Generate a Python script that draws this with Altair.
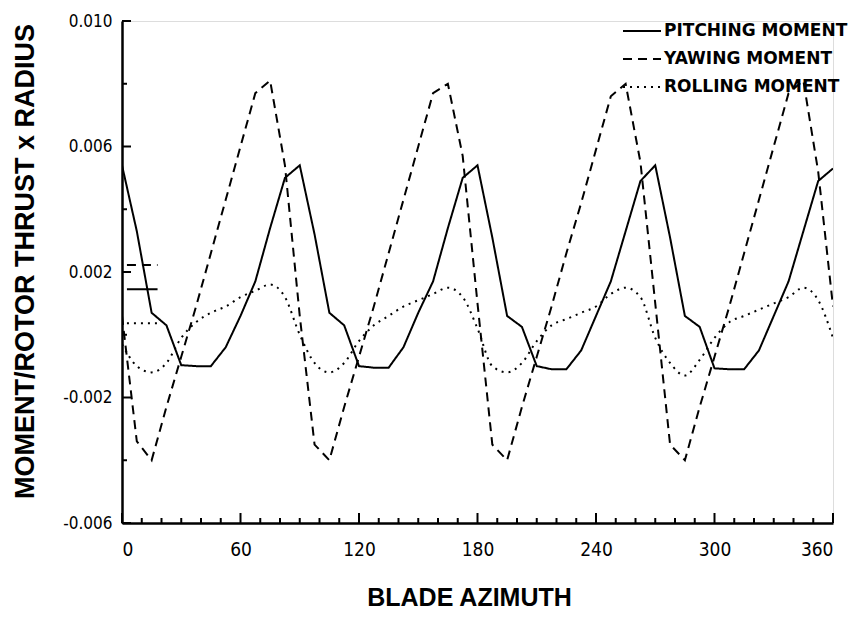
import altair as alt
import pandas as pd

azimuth = [0, 7.5, 15, 22.5, 30, 37.5, 45, 52.5, 60, 67.5, 75, 82.5, 90,
           97.5, 105, 112.5, 120, 127.5, 135, 142.5, 150, 157.5, 165, 172.5, 180,
           187.5, 195, 202.5, 210, 217.5, 225, 232.5, 240, 247.5, 255, 262.5, 270,
           277.5, 285, 292.5, 300, 307.5, 315, 322.5, 330, 337.5, 345, 352.5, 360]

pitching = [0.0054, 0.0033, 0.0007, 0.0003, -0.00097, -0.0010, -0.0010, -0.0004, 0.0006, 0.0017, 0.0034, 0.0050, 0.0054,
            0.0032, 0.0007, 0.0003, -0.0010, -0.00105, -0.00105, -0.0004, 0.0007, 0.0017, 0.0034, 0.0050, 0.0054,
            0.0031, 0.0006, 0.00025, -0.0010, -0.0011, -0.0011, -0.0005, 0.0006, 0.0017, 0.0033, 0.0049, 0.0054,
            0.0031, 0.0006, 0.00025, -0.00107, -0.0011, -0.0011, -0.0005, 0.0006, 0.0017, 0.0033, 0.0049, 0.0053]

yawing = [0.0006, -0.0034, -0.0040, -0.0023, -0.0007, 0.0009, 0.0026, 0.0043, 0.0060, 0.0077, 0.0081, 0.0054, 0.0006,
          -0.0035, -0.0040, -0.0023, -0.0007, 0.0009, 0.0026, 0.0043, 0.0060, 0.0077, 0.0080, 0.0057, 0.0010,
          -0.0035, -0.0040, -0.0023, -0.0007, 0.0009, 0.0026, 0.0042, 0.0059, 0.0076, 0.0080, 0.0055, 0.0010,
          -0.0035, -0.0040, -0.0023, -0.0007, 0.0009, 0.0026, 0.0043, 0.0060, 0.0077, 0.0081, 0.0052, 0.0009]

rolling = [-0.0003, -0.0010, -0.0012, -0.0009, -0.0001, 0.0004, 0.0007, 0.0009, 0.0012, 0.0014, 0.0016, 0.0012, 0.0000,
           -0.0009, -0.0012, -0.0009, -0.0002, 0.0003, 0.0006, 0.0009, 0.0011, 0.0013, 0.0015, 0.0012, 0.0002,
           -0.0010, -0.0012, -0.0009, -0.0002, 0.0003, 0.0005, 0.0007, 0.0009, 0.0013, 0.0015, 0.0012, -0.0001,
           -0.0009, -0.0013, -0.0008, -0.0001, 0.0004, 0.0006, 0.0008, 0.0010, 0.0012, 0.0015, 0.0011, -0.0001]

series_names = ["PITCHING MOMENT", "YAWING MOMENT", "ROLLING MOMENT"]
series_dash = [[1, 0], [9, 6], [2, 5]]

# short stray sample strokes near the left axis (as in the original scan)
stub_x = [2.5, 18]
stub_values = [0.00145, 0.00222, 0.00037]

y_tick_values = [-0.006, -0.002, 0.002, 0.006, 0.010]
y_tick_labels = ["-0.006", "-0.002", "0.002", "0.006", "0.010"]
y_minor_values = [-0.004, 0.0, 0.004, 0.008]
x_tick_values = [0, 60, 120, 180, 240, 300, 360]
x_minor_values = [10, 20, 30, 40, 50, 70, 80, 90, 100, 110, 130, 140, 150, 160, 170,
                  190, 200, 210, 220, 230, 250, 260, 270, 280, 290, 310, 320, 330, 340, 350]

rows = []
for name, vals in zip(series_names, [pitching, yawing, rolling]):
    for a, v in zip(azimuth, vals):
        rows.append({"azimuth": a, "value": v, "series": name})
df = pd.DataFrame(rows)

stub_rows = []
for name, v in zip(series_names, stub_values):
    for a in stub_x:
        stub_rows.append({"azimuth": a, "value": v, "series": name})
stub_df = pd.DataFrame(stub_rows)

W, H = 711, 502
LABEL_FONT = "Liberation Sans Narrow, DejaVu Sans Condensed, Liberation Sans, sans-serif"

y_label_expr = " : ".join(
    [f"datum.value == {v} ? '{l}'" for v, l in zip(y_tick_values, y_tick_labels)]
) + " : ''"

xscale = alt.Scale(domain=[0, 360], nice=False, zero=False)
yscale = alt.Scale(domain=[-0.006, 0.010], nice=False, zero=False)
dash_scale = alt.Scale(domain=series_names, range=series_dash)

x_axis = alt.Axis(
    values=x_tick_values, format="d", grid=False, ticks=False, tickSize=0,
    domainColor="black", domainWidth=2.5,
    labelFont=LABEL_FONT, labelFontSize=19, labelColor="black", labelPadding=17,
    title="BLADE AZIMUTH", titleFont="Liberation Sans", titleFontSize=25,
    titleFontWeight="bold", titleColor="black", titleX=347, titleY=74,
    titleBaseline="middle", titleAlign="center", titleAnchor="start",
)
y_axis = alt.Axis(
    values=y_tick_values, labelExpr=y_label_expr, grid=False, ticks=False, tickSize=0,
    domainColor="black", domainWidth=2.5,
    labelFont=LABEL_FONT, labelFontSize=17, labelColor="black", labelPadding=10,
    title="MOMENT/ROTOR THRUST x RADIUS", titleFont="Liberation Sans", titleFontSize=27,
    titleFontWeight="bold", titleColor="black", titleX=-97, titleY=240,
    titleAngle=270, titleBaseline="middle", titleAlign="center", titleAnchor="start",
)

legend = alt.Legend(
    title=None, orient="none", legendX=500, legendY=-10,
    symbolType="stroke", symbolSize=1444, symbolStrokeWidth=2, symbolStrokeColor="black",
    labelFont="DejaVu Sans", labelFontWeight="bold", labelFontSize=17, labelColor="black",
    labelOffset=2, rowPadding=-4, padding=0, labelLimit=400,
)

base = alt.Chart(df)

lines_main = base.transform_filter(
    alt.FieldOneOfPredicate(field="series", oneOf=series_names[:2])
).mark_line(color="black", strokeWidth=2, clip=True).encode(
    x=alt.X("azimuth:Q", scale=xscale, axis=x_axis),
    y=alt.Y("value:Q", scale=yscale, axis=y_axis),
    strokeDash=alt.StrokeDash("series:N", scale=dash_scale, legend=legend),
    detail="series:N",
)

lines_roll = base.transform_filter(
    alt.FieldEqualPredicate(field="series", equal=series_names[2])
).mark_line(color="black", strokeWidth=2, interpolate="monotone", clip=True).encode(
    x=alt.X("azimuth:Q", scale=xscale),
    y=alt.Y("value:Q", scale=yscale),
    strokeDash=alt.StrokeDash("series:N", scale=dash_scale, legend=legend),
    detail="series:N",
)

stubs = alt.Chart(stub_df).mark_line(color="black", strokeWidth=2).encode(
    x=alt.X("azimuth:Q", scale=xscale),
    y=alt.Y("value:Q", scale=yscale),
    strokeDash=alt.StrokeDash("series:N", scale=dash_scale, legend=legend),
    detail="series:N",
)

y_major = alt.Chart(pd.DataFrame({"v": y_tick_values})).mark_rule(color="black", strokeWidth=2).encode(
    y=alt.Y("v:Q", scale=yscale), x=alt.value(0), x2=alt.value(9)
)
y_minor = alt.Chart(pd.DataFrame({"v": y_minor_values})).mark_rule(color="black", strokeWidth=2).encode(
    y=alt.Y("v:Q", scale=yscale), x=alt.value(0), x2=alt.value(5)
)
x_major = alt.Chart(pd.DataFrame({"v": x_tick_values})).mark_rule(color="black", strokeWidth=2).encode(
    x=alt.X("v:Q", scale=xscale), y=alt.value(H), y2=alt.value(H - 10)
)
x_minor = alt.Chart(pd.DataFrame({"v": x_minor_values})).mark_rule(color="black", strokeWidth=2).encode(
    x=alt.X("v:Q", scale=xscale), y=alt.value(H), y2=alt.value(H - 5)
)

chart = alt.layer(lines_main, lines_roll, stubs, y_major, y_minor, x_major, x_minor).properties(
    width=W, height=H,
    padding={"left": 122, "top": 21, "right": 19, "bottom": 99},
    autosize=alt.AutoSizeParams(type="none"),
).configure_view(stroke=None).configure(background="white")

chart.save("out.html", embed_options={"renderer": "svg", "actions": False})
